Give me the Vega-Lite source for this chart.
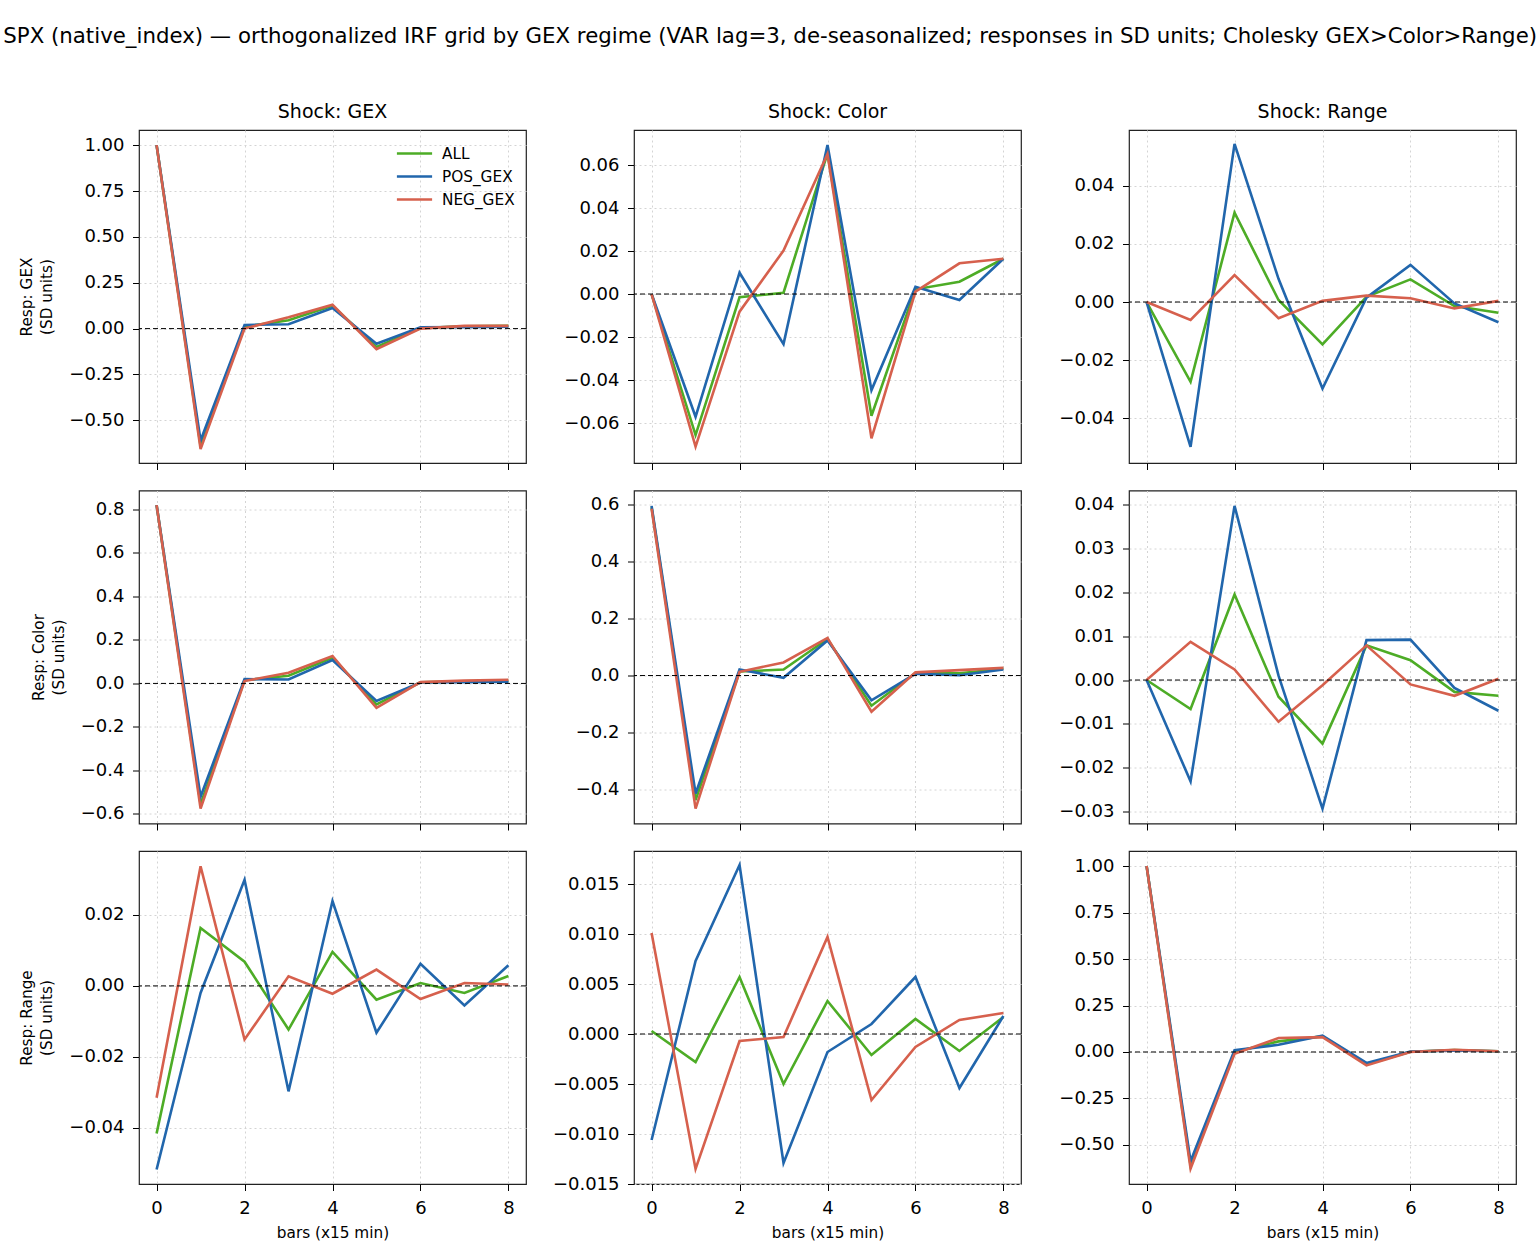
{
"$schema": "https://vega.github.io/schema/vega-lite/v6.json",
"padding": {"left": 3, "top": 26, "right": 3, "bottom": 5},
"background": "white",
"title": {"text": "SPX (native_index) — orthogonalized IRF grid by GEX regime (VAR lag=3, de-seasonalized; responses in SD units; Cholesky GEX>Color>Range)", "fontSize": 21.3, "fontWeight": "normal", "anchor": "middle", "offset": 55, "dx": 2, "color": "black"},
"data": {"values": [
{"s":"GEX","r":"GEX","g":"ALL","h":0,"v":1.0},{"s":"GEX","r":"GEX","g":"ALL","h":1,"v":-0.64},{"s":"GEX","r":"GEX","g":"ALL","h":2,"v":0.01},{"s":"GEX","r":"GEX","g":"ALL","h":3,"v":0.045},{"s":"GEX","r":"GEX","g":"ALL","h":4,"v":0.125},{"s":"GEX","r":"GEX","g":"ALL","h":5,"v":-0.1},{"s":"GEX","r":"GEX","g":"ALL","h":6,"v":0.003},{"s":"GEX","r":"GEX","g":"ALL","h":7,"v":0.012},{"s":"GEX","r":"GEX","g":"ALL","h":8,"v":0.015},
{"s":"GEX","r":"GEX","g":"POS_GEX","h":0,"v":1.0},{"s":"GEX","r":"GEX","g":"POS_GEX","h":1,"v":-0.61},{"s":"GEX","r":"GEX","g":"POS_GEX","h":2,"v":0.02},{"s":"GEX","r":"GEX","g":"POS_GEX","h":3,"v":0.024},{"s":"GEX","r":"GEX","g":"POS_GEX","h":4,"v":0.112},{"s":"GEX","r":"GEX","g":"POS_GEX","h":5,"v":-0.082},{"s":"GEX","r":"GEX","g":"POS_GEX","h":6,"v":0.007},{"s":"GEX","r":"GEX","g":"POS_GEX","h":7,"v":0.008},{"s":"GEX","r":"GEX","g":"POS_GEX","h":8,"v":0.01},
{"s":"GEX","r":"GEX","g":"NEG_GEX","h":0,"v":1.0},{"s":"GEX","r":"GEX","g":"NEG_GEX","h":1,"v":-0.657},{"s":"GEX","r":"GEX","g":"NEG_GEX","h":2,"v":0.0},{"s":"GEX","r":"GEX","g":"NEG_GEX","h":3,"v":0.062},{"s":"GEX","r":"GEX","g":"NEG_GEX","h":4,"v":0.13},{"s":"GEX","r":"GEX","g":"NEG_GEX","h":5,"v":-0.112},{"s":"GEX","r":"GEX","g":"NEG_GEX","h":6,"v":0.0},{"s":"GEX","r":"GEX","g":"NEG_GEX","h":7,"v":0.015},{"s":"GEX","r":"GEX","g":"NEG_GEX","h":8,"v":0.015},

{"s":"Color","r":"GEX","g":"ALL","h":0,"v":0},{"s":"Color","r":"GEX","g":"ALL","h":1,"v":-0.0656},{"s":"Color","r":"GEX","g":"ALL","h":2,"v":-0.0015},{"s":"Color","r":"GEX","g":"ALL","h":3,"v":0.0006},{"s":"Color","r":"GEX","g":"ALL","h":4,"v":0.0654},{"s":"Color","r":"GEX","g":"ALL","h":5,"v":-0.0566},{"s":"Color","r":"GEX","g":"ALL","h":6,"v":0.0022},{"s":"Color","r":"GEX","g":"ALL","h":7,"v":0.0057},{"s":"Color","r":"GEX","g":"ALL","h":8,"v":0.0164},
{"s":"Color","r":"GEX","g":"POS_GEX","h":0,"v":0},{"s":"Color","r":"GEX","g":"POS_GEX","h":1,"v":-0.0571},{"s":"Color","r":"GEX","g":"POS_GEX","h":2,"v":0.0099},{"s":"Color","r":"GEX","g":"POS_GEX","h":3,"v":-0.0233},{"s":"Color","r":"GEX","g":"POS_GEX","h":4,"v":0.0693},{"s":"Color","r":"GEX","g":"POS_GEX","h":5,"v":-0.0447},{"s":"Color","r":"GEX","g":"POS_GEX","h":6,"v":0.0034},{"s":"Color","r":"GEX","g":"POS_GEX","h":7,"v":-0.0028},{"s":"Color","r":"GEX","g":"POS_GEX","h":8,"v":0.0164},
{"s":"Color","r":"GEX","g":"NEG_GEX","h":0,"v":0},{"s":"Color","r":"GEX","g":"NEG_GEX","h":1,"v":-0.071},{"s":"Color","r":"GEX","g":"NEG_GEX","h":2,"v":-0.0082},{"s":"Color","r":"GEX","g":"NEG_GEX","h":3,"v":0.0202},{"s":"Color","r":"GEX","g":"NEG_GEX","h":4,"v":0.0651},{"s":"Color","r":"GEX","g":"NEG_GEX","h":5,"v":-0.0671},{"s":"Color","r":"GEX","g":"NEG_GEX","h":6,"v":0.0011},{"s":"Color","r":"GEX","g":"NEG_GEX","h":7,"v":0.0143},{"s":"Color","r":"GEX","g":"NEG_GEX","h":8,"v":0.0164},

{"s":"Range","r":"GEX","g":"ALL","h":0,"v":0},{"s":"Range","r":"GEX","g":"ALL","h":1,"v":-0.0275},{"s":"Range","r":"GEX","g":"ALL","h":2,"v":0.0308},{"s":"Range","r":"GEX","g":"ALL","h":3,"v":0.0007},{"s":"Range","r":"GEX","g":"ALL","h":4,"v":-0.0146},{"s":"Range","r":"GEX","g":"ALL","h":5,"v":0.0018},{"s":"Range","r":"GEX","g":"ALL","h":6,"v":0.0078},{"s":"Range","r":"GEX","g":"ALL","h":7,"v":-0.0014},{"s":"Range","r":"GEX","g":"ALL","h":8,"v":-0.0037},
{"s":"Range","r":"GEX","g":"POS_GEX","h":0,"v":0},{"s":"Range","r":"GEX","g":"POS_GEX","h":1,"v":-0.0499},{"s":"Range","r":"GEX","g":"POS_GEX","h":2,"v":0.0545},{"s":"Range","r":"GEX","g":"POS_GEX","h":3,"v":0.008},{"s":"Range","r":"GEX","g":"POS_GEX","h":4,"v":-0.0298},{"s":"Range","r":"GEX","g":"POS_GEX","h":5,"v":0.0015},{"s":"Range","r":"GEX","g":"POS_GEX","h":6,"v":0.0128},{"s":"Range","r":"GEX","g":"POS_GEX","h":7,"v":-0.0005},{"s":"Range","r":"GEX","g":"POS_GEX","h":8,"v":-0.007},
{"s":"Range","r":"GEX","g":"NEG_GEX","h":0,"v":0},{"s":"Range","r":"GEX","g":"NEG_GEX","h":1,"v":-0.0062},{"s":"Range","r":"GEX","g":"NEG_GEX","h":2,"v":0.0093},{"s":"Range","r":"GEX","g":"NEG_GEX","h":3,"v":-0.0056},{"s":"Range","r":"GEX","g":"NEG_GEX","h":4,"v":0.0004},{"s":"Range","r":"GEX","g":"NEG_GEX","h":5,"v":0.0022},{"s":"Range","r":"GEX","g":"NEG_GEX","h":6,"v":0.0013},{"s":"Range","r":"GEX","g":"NEG_GEX","h":7,"v":-0.0022},{"s":"Range","r":"GEX","g":"NEG_GEX","h":8,"v":0.0004},

{"s":"GEX","r":"Color","g":"ALL","h":0,"v":0.82},{"s":"GEX","r":"Color","g":"ALL","h":1,"v":-0.555},{"s":"GEX","r":"Color","g":"ALL","h":2,"v":0.015},{"s":"GEX","r":"Color","g":"ALL","h":3,"v":0.035},{"s":"GEX","r":"Color","g":"ALL","h":4,"v":0.118},{"s":"GEX","r":"Color","g":"ALL","h":5,"v":-0.097},{"s":"GEX","r":"Color","g":"ALL","h":6,"v":0.005},{"s":"GEX","r":"Color","g":"ALL","h":7,"v":0.01},{"s":"GEX","r":"Color","g":"ALL","h":8,"v":0.012},
{"s":"GEX","r":"Color","g":"POS_GEX","h":0,"v":0.82},{"s":"GEX","r":"Color","g":"POS_GEX","h":1,"v":-0.521},{"s":"GEX","r":"Color","g":"POS_GEX","h":2,"v":0.02},{"s":"GEX","r":"Color","g":"POS_GEX","h":3,"v":0.018},{"s":"GEX","r":"Color","g":"POS_GEX","h":4,"v":0.107},{"s":"GEX","r":"Color","g":"POS_GEX","h":5,"v":-0.081},{"s":"GEX","r":"Color","g":"POS_GEX","h":6,"v":0.004},{"s":"GEX","r":"Color","g":"POS_GEX","h":7,"v":0.006},{"s":"GEX","r":"Color","g":"POS_GEX","h":8,"v":0.008},
{"s":"GEX","r":"Color","g":"NEG_GEX","h":0,"v":0.82},{"s":"GEX","r":"Color","g":"NEG_GEX","h":1,"v":-0.575},{"s":"GEX","r":"Color","g":"NEG_GEX","h":2,"v":0.011},{"s":"GEX","r":"Color","g":"NEG_GEX","h":3,"v":0.049},{"s":"GEX","r":"Color","g":"NEG_GEX","h":4,"v":0.126},{"s":"GEX","r":"Color","g":"NEG_GEX","h":5,"v":-0.112},{"s":"GEX","r":"Color","g":"NEG_GEX","h":6,"v":0.006},{"s":"GEX","r":"Color","g":"NEG_GEX","h":7,"v":0.013},{"s":"GEX","r":"Color","g":"NEG_GEX","h":8,"v":0.017},

{"s":"Color","r":"Color","g":"ALL","h":0,"v":0.59},{"s":"Color","r":"Color","g":"ALL","h":1,"v":-0.437},{"s":"Color","r":"Color","g":"ALL","h":2,"v":0.014},{"s":"Color","r":"Color","g":"ALL","h":3,"v":0.021},{"s":"Color","r":"Color","g":"ALL","h":4,"v":0.128},{"s":"Color","r":"Color","g":"ALL","h":5,"v":-0.106},{"s":"Color","r":"Color","g":"ALL","h":6,"v":0.009},{"s":"Color","r":"Color","g":"ALL","h":7,"v":0.008},{"s":"Color","r":"Color","g":"ALL","h":8,"v":0.024},
{"s":"Color","r":"Color","g":"POS_GEX","h":0,"v":0.595},{"s":"Color","r":"Color","g":"POS_GEX","h":1,"v":-0.414},{"s":"Color","r":"Color","g":"POS_GEX","h":2,"v":0.021},{"s":"Color","r":"Color","g":"POS_GEX","h":3,"v":-0.008},{"s":"Color","r":"Color","g":"POS_GEX","h":4,"v":0.123},{"s":"Color","r":"Color","g":"POS_GEX","h":5,"v":-0.087},{"s":"Color","r":"Color","g":"POS_GEX","h":6,"v":0.006},{"s":"Color","r":"Color","g":"POS_GEX","h":7,"v":0.001},{"s":"Color","r":"Color","g":"POS_GEX","h":8,"v":0.021},
{"s":"Color","r":"Color","g":"NEG_GEX","h":0,"v":0.585},{"s":"Color","r":"Color","g":"NEG_GEX","h":1,"v":-0.467},{"s":"Color","r":"Color","g":"NEG_GEX","h":2,"v":0.013},{"s":"Color","r":"Color","g":"NEG_GEX","h":3,"v":0.046},{"s":"Color","r":"Color","g":"NEG_GEX","h":4,"v":0.132},{"s":"Color","r":"Color","g":"NEG_GEX","h":5,"v":-0.127},{"s":"Color","r":"Color","g":"NEG_GEX","h":6,"v":0.011},{"s":"Color","r":"Color","g":"NEG_GEX","h":7,"v":0.019},{"s":"Color","r":"Color","g":"NEG_GEX","h":8,"v":0.027},

{"s":"Range","r":"Color","g":"ALL","h":0,"v":0},{"s":"Range","r":"Color","g":"ALL","h":1,"v":-0.0066},{"s":"Range","r":"Color","g":"ALL","h":2,"v":0.0195},{"s":"Range","r":"Color","g":"ALL","h":3,"v":-0.0038},{"s":"Range","r":"Color","g":"ALL","h":4,"v":-0.0145},{"s":"Range","r":"Color","g":"ALL","h":5,"v":0.0079},{"s":"Range","r":"Color","g":"ALL","h":6,"v":0.0045},{"s":"Range","r":"Color","g":"ALL","h":7,"v":-0.0027},{"s":"Range","r":"Color","g":"ALL","h":8,"v":-0.0036},
{"s":"Range","r":"Color","g":"POS_GEX","h":0,"v":0},{"s":"Range","r":"Color","g":"POS_GEX","h":1,"v":-0.0231},{"s":"Range","r":"Color","g":"POS_GEX","h":2,"v":0.0397},{"s":"Range","r":"Color","g":"POS_GEX","h":3,"v":0.001},{"s":"Range","r":"Color","g":"POS_GEX","h":4,"v":-0.0293},{"s":"Range","r":"Color","g":"POS_GEX","h":5,"v":0.0091},{"s":"Range","r":"Color","g":"POS_GEX","h":6,"v":0.0092},{"s":"Range","r":"Color","g":"POS_GEX","h":7,"v":-0.0018},{"s":"Range","r":"Color","g":"POS_GEX","h":8,"v":-0.007},
{"s":"Range","r":"Color","g":"NEG_GEX","h":0,"v":0},{"s":"Range","r":"Color","g":"NEG_GEX","h":1,"v":0.0087},{"s":"Range","r":"Color","g":"NEG_GEX","h":2,"v":0.0024},{"s":"Range","r":"Color","g":"NEG_GEX","h":3,"v":-0.0095},{"s":"Range","r":"Color","g":"NEG_GEX","h":4,"v":-0.0012},{"s":"Range","r":"Color","g":"NEG_GEX","h":5,"v":0.0079},{"s":"Range","r":"Color","g":"NEG_GEX","h":6,"v":-0.001},{"s":"Range","r":"Color","g":"NEG_GEX","h":7,"v":-0.0036},{"s":"Range","r":"Color","g":"NEG_GEX","h":8,"v":0.0003},

{"s":"GEX","r":"Range","g":"ALL","h":0,"v":-0.0416},{"s":"GEX","r":"Range","g":"ALL","h":1,"v":0.0163},{"s":"GEX","r":"Range","g":"ALL","h":2,"v":0.0068},{"s":"GEX","r":"Range","g":"ALL","h":3,"v":-0.0123},{"s":"GEX","r":"Range","g":"ALL","h":4,"v":0.0096},{"s":"GEX","r":"Range","g":"ALL","h":5,"v":-0.0039},{"s":"GEX","r":"Range","g":"ALL","h":6,"v":0.0008},{"s":"GEX","r":"Range","g":"ALL","h":7,"v":-0.002},{"s":"GEX","r":"Range","g":"ALL","h":8,"v":0.0028},
{"s":"GEX","r":"Range","g":"POS_GEX","h":0,"v":-0.0517},{"s":"GEX","r":"Range","g":"POS_GEX","h":1,"v":-0.002},{"s":"GEX","r":"Range","g":"POS_GEX","h":2,"v":0.0299},{"s":"GEX","r":"Range","g":"POS_GEX","h":3,"v":-0.0297},{"s":"GEX","r":"Range","g":"POS_GEX","h":4,"v":0.0239},{"s":"GEX","r":"Range","g":"POS_GEX","h":5,"v":-0.0132},{"s":"GEX","r":"Range","g":"POS_GEX","h":6,"v":0.0062},{"s":"GEX","r":"Range","g":"POS_GEX","h":7,"v":-0.0055},{"s":"GEX","r":"Range","g":"POS_GEX","h":8,"v":0.0058},
{"s":"GEX","r":"Range","g":"NEG_GEX","h":0,"v":-0.0315},{"s":"GEX","r":"Range","g":"NEG_GEX","h":1,"v":0.0337},{"s":"GEX","r":"Range","g":"NEG_GEX","h":2,"v":-0.0151},{"s":"GEX","r":"Range","g":"NEG_GEX","h":3,"v":0.0027},{"s":"GEX","r":"Range","g":"NEG_GEX","h":4,"v":-0.0022},{"s":"GEX","r":"Range","g":"NEG_GEX","h":5,"v":0.0046},{"s":"GEX","r":"Range","g":"NEG_GEX","h":6,"v":-0.0037},{"s":"GEX","r":"Range","g":"NEG_GEX","h":7,"v":0.0008},{"s":"GEX","r":"Range","g":"NEG_GEX","h":8,"v":0.0004},

{"s":"Color","r":"Range","g":"ALL","h":0,"v":0.0003},{"s":"Color","r":"Range","g":"ALL","h":1,"v":-0.0028},{"s":"Color","r":"Range","g":"ALL","h":2,"v":0.0057},{"s":"Color","r":"Range","g":"ALL","h":3,"v":-0.005},{"s":"Color","r":"Range","g":"ALL","h":4,"v":0.0033},{"s":"Color","r":"Range","g":"ALL","h":5,"v":-0.0021},{"s":"Color","r":"Range","g":"ALL","h":6,"v":0.0015},{"s":"Color","r":"Range","g":"ALL","h":7,"v":-0.0017},{"s":"Color","r":"Range","g":"ALL","h":8,"v":0.0017},
{"s":"Color","r":"Range","g":"POS_GEX","h":0,"v":-0.0106},{"s":"Color","r":"Range","g":"POS_GEX","h":1,"v":0.0073},{"s":"Color","r":"Range","g":"POS_GEX","h":2,"v":0.0169},{"s":"Color","r":"Range","g":"POS_GEX","h":3,"v":-0.0129},{"s":"Color","r":"Range","g":"POS_GEX","h":4,"v":-0.0018},{"s":"Color","r":"Range","g":"POS_GEX","h":5,"v":0.001},{"s":"Color","r":"Range","g":"POS_GEX","h":6,"v":0.0057},{"s":"Color","r":"Range","g":"POS_GEX","h":7,"v":-0.0054},{"s":"Color","r":"Range","g":"POS_GEX","h":8,"v":0.0018},
{"s":"Color","r":"Range","g":"NEG_GEX","h":0,"v":0.0101},{"s":"Color","r":"Range","g":"NEG_GEX","h":1,"v":-0.0135},{"s":"Color","r":"Range","g":"NEG_GEX","h":2,"v":-0.0007},{"s":"Color","r":"Range","g":"NEG_GEX","h":3,"v":-0.0003},{"s":"Color","r":"Range","g":"NEG_GEX","h":4,"v":0.0097},{"s":"Color","r":"Range","g":"NEG_GEX","h":5,"v":-0.0066},{"s":"Color","r":"Range","g":"NEG_GEX","h":6,"v":-0.0013},{"s":"Color","r":"Range","g":"NEG_GEX","h":7,"v":0.0014},{"s":"Color","r":"Range","g":"NEG_GEX","h":8,"v":0.0021},

{"s":"Range","r":"Range","g":"ALL","h":0,"v":1.0},{"s":"Range","r":"Range","g":"ALL","h":1,"v":-0.61},{"s":"Range","r":"Range","g":"ALL","h":2,"v":0.0},{"s":"Range","r":"Range","g":"ALL","h":3,"v":0.057},{"s":"Range","r":"Range","g":"ALL","h":4,"v":0.084},{"s":"Range","r":"Range","g":"ALL","h":5,"v":-0.066},{"s":"Range","r":"Range","g":"ALL","h":6,"v":0.001},{"s":"Range","r":"Range","g":"ALL","h":7,"v":0.01},{"s":"Range","r":"Range","g":"ALL","h":8,"v":0.004},
{"s":"Range","r":"Range","g":"POS_GEX","h":0,"v":1.0},{"s":"Range","r":"Range","g":"POS_GEX","h":1,"v":-0.588},{"s":"Range","r":"Range","g":"POS_GEX","h":2,"v":0.009},{"s":"Range","r":"Range","g":"POS_GEX","h":3,"v":0.039},{"s":"Range","r":"Range","g":"POS_GEX","h":4,"v":0.088},{"s":"Range","r":"Range","g":"POS_GEX","h":5,"v":-0.059},{"s":"Range","r":"Range","g":"POS_GEX","h":6,"v":0.002},{"s":"Range","r":"Range","g":"POS_GEX","h":7,"v":0.008},{"s":"Range","r":"Range","g":"POS_GEX","h":8,"v":0.004},
{"s":"Range","r":"Range","g":"NEG_GEX","h":0,"v":1.0},{"s":"Range","r":"Range","g":"NEG_GEX","h":1,"v":-0.627},{"s":"Range","r":"Range","g":"NEG_GEX","h":2,"v":-0.009},{"s":"Range","r":"Range","g":"NEG_GEX","h":3,"v":0.075},{"s":"Range","r":"Range","g":"NEG_GEX","h":4,"v":0.08},{"s":"Range","r":"Range","g":"NEG_GEX","h":5,"v":-0.072},{"s":"Range","r":"Range","g":"NEG_GEX","h":6,"v":0.0},{"s":"Range","r":"Range","g":"NEG_GEX","h":7,"v":0.012},{"s":"Range","r":"Range","g":"NEG_GEX","h":8,"v":0.004}
]},
"columns": 3,
"spacing": {"row": 27.5, "column": 108},
"bounds": "flush",
"resolve": {"legend": {"color": "independent"}},
"concat": [
 {"width": 387, "height": 333, "title": "Shock: GEX",
  "layer": [
   {"transform": [{"filter": "datum.s === 'GEX' && datum.r === 'GEX'"}],
    "mark": {"type": "line", "strokeWidth": 2.6},
    "encoding": {
     "x": {"field": "h", "type": "quantitative", "scale": {"domain": [-0.4, 8.4], "nice": false, "zero": false}, "axis": {"values": [0,2,4,6,8], "labels": false, "title": null}},
     "y": {"field": "v", "type": "quantitative", "scale": {"domain": [-0.7325, 1.0825], "nice": false, "zero": false}, "axis": {"values": [-0.5,-0.25,0,0.25,0.5,0.75,1], "format": ".2f", "title": ["Resp: GEX", "(SD units)"]}},
     "color": {"field": "g", "type": "nominal", "scale": {"domain": ["ALL","POS_GEX","NEG_GEX"], "range": ["#4dac26","#2166ac","#d6604d"]},
       "legend": {"orient": "top-right", "title": null, "labelFontSize": 15.3, "symbolType": "M-1.6,0H1.6", "symbolSize": 484, "symbolStrokeWidth": 2.7, "labelOffset": 15, "rowPadding": 2, "offset": 11, "padding": 0}}}},
   {"data": {"values": [{}]}, "mark": {"type": "rule", "strokeDash": [5,3], "color": "black", "strokeWidth": 1}, "encoding": {"y": {"datum": 0, "type": "quantitative"}}}
  ]},
 {"width": 387, "height": 333, "title": "Shock: Color",
  "layer": [
   {"transform": [{"filter": "datum.s === 'Color' && datum.r === 'GEX'"}],
    "mark": {"type": "line", "strokeWidth": 2.6},
    "encoding": {
     "x": {"field": "h", "type": "quantitative", "scale": {"domain": [-0.4, 8.4], "nice": false, "zero": false}, "axis": {"values": [0,2,4,6,8], "labels": false, "title": null}},
     "y": {"field": "v", "type": "quantitative", "scale": {"domain": [-0.0786, 0.0763], "nice": false, "zero": false}, "axis": {"values": [-0.06,-0.04,-0.02,0,0.02,0.04,0.06], "format": ".2f", "title": null}},
     "color": {"field": "g", "type": "nominal", "scale": {"domain": ["ALL","POS_GEX","NEG_GEX"], "range": ["#4dac26","#2166ac","#d6604d"]}, "legend": null}}},
   {"data": {"values": [{}]}, "mark": {"type": "rule", "strokeDash": [5,3], "color": "black", "strokeWidth": 1}, "encoding": {"y": {"datum": 0, "type": "quantitative"}}}
  ]},
 {"width": 387, "height": 333, "title": "Shock: Range",
  "layer": [
   {"transform": [{"filter": "datum.s === 'Range' && datum.r === 'GEX'"}],
    "mark": {"type": "line", "strokeWidth": 2.6},
    "encoding": {
     "x": {"field": "h", "type": "quantitative", "scale": {"domain": [-0.4, 8.4], "nice": false, "zero": false}, "axis": {"values": [0,2,4,6,8], "labels": false, "title": null}},
     "y": {"field": "v", "type": "quantitative", "scale": {"domain": [-0.0555, 0.0593], "nice": false, "zero": false}, "axis": {"values": [-0.04,-0.02,0,0.02,0.04], "format": ".2f", "title": null}},
     "color": {"field": "g", "type": "nominal", "scale": {"domain": ["ALL","POS_GEX","NEG_GEX"], "range": ["#4dac26","#2166ac","#d6604d"]}, "legend": null}}},
   {"data": {"values": [{}]}, "mark": {"type": "rule", "strokeDash": [5,3], "color": "black", "strokeWidth": 1}, "encoding": {"y": {"datum": 0, "type": "quantitative"}}}
  ]},
 {"width": 387, "height": 333,
  "layer": [
   {"transform": [{"filter": "datum.s === 'GEX' && datum.r === 'Color'"}],
    "mark": {"type": "line", "strokeWidth": 2.6},
    "encoding": {
     "x": {"field": "h", "type": "quantitative", "scale": {"domain": [-0.4, 8.4], "nice": false, "zero": false}, "axis": {"values": [0,2,4,6,8], "labels": false, "title": null}},
     "y": {"field": "v", "type": "quantitative", "scale": {"domain": [-0.644, 0.887], "nice": false, "zero": false}, "axis": {"values": [-0.6,-0.4,-0.2,0,0.2,0.4,0.6,0.8], "format": ".1f", "title": ["Resp: Color", "(SD units)"]}},
     "color": {"field": "g", "type": "nominal", "scale": {"domain": ["ALL","POS_GEX","NEG_GEX"], "range": ["#4dac26","#2166ac","#d6604d"]}, "legend": null}}},
   {"data": {"values": [{}]}, "mark": {"type": "rule", "strokeDash": [5,3], "color": "black", "strokeWidth": 1}, "encoding": {"y": {"datum": 0, "type": "quantitative"}}}
  ]},
 {"width": 387, "height": 333,
  "layer": [
   {"transform": [{"filter": "datum.s === 'Color' && datum.r === 'Color'"}],
    "mark": {"type": "line", "strokeWidth": 2.6},
    "encoding": {
     "x": {"field": "h", "type": "quantitative", "scale": {"domain": [-0.4, 8.4], "nice": false, "zero": false}, "axis": {"values": [0,2,4,6,8], "labels": false, "title": null}},
     "y": {"field": "v", "type": "quantitative", "scale": {"domain": [-0.519, 0.649], "nice": false, "zero": false}, "axis": {"values": [-0.4,-0.2,0,0.2,0.4,0.6], "format": ".1f", "title": null}},
     "color": {"field": "g", "type": "nominal", "scale": {"domain": ["ALL","POS_GEX","NEG_GEX"], "range": ["#4dac26","#2166ac","#d6604d"]}, "legend": null}}},
   {"data": {"values": [{}]}, "mark": {"type": "rule", "strokeDash": [5,3], "color": "black", "strokeWidth": 1}, "encoding": {"y": {"datum": 0, "type": "quantitative"}}}
  ]},
 {"width": 387, "height": 333,
  "layer": [
   {"transform": [{"filter": "datum.s === 'Range' && datum.r === 'Color'"}],
    "mark": {"type": "line", "strokeWidth": 2.6},
    "encoding": {
     "x": {"field": "h", "type": "quantitative", "scale": {"domain": [-0.4, 8.4], "nice": false, "zero": false}, "axis": {"values": [0,2,4,6,8], "labels": false, "title": null}},
     "y": {"field": "v", "type": "quantitative", "scale": {"domain": [-0.0327, 0.0432], "nice": false, "zero": false}, "axis": {"values": [-0.03,-0.02,-0.01,0,0.01,0.02,0.03,0.04], "format": ".2f", "title": null}},
     "color": {"field": "g", "type": "nominal", "scale": {"domain": ["ALL","POS_GEX","NEG_GEX"], "range": ["#4dac26","#2166ac","#d6604d"]}, "legend": null}}},
   {"data": {"values": [{}]}, "mark": {"type": "rule", "strokeDash": [5,3], "color": "black", "strokeWidth": 1}, "encoding": {"y": {"datum": 0, "type": "quantitative"}}}
  ]},
 {"width": 387, "height": 333,
  "layer": [
   {"transform": [{"filter": "datum.s === 'GEX' && datum.r === 'Range'"}],
    "mark": {"type": "line", "strokeWidth": 2.6},
    "encoding": {
     "x": {"field": "h", "type": "quantitative", "scale": {"domain": [-0.4, 8.4], "nice": false, "zero": false}, "axis": {"values": [0,2,4,6,8], "title": "bars (x15 min)"}},
     "y": {"field": "v", "type": "quantitative", "scale": {"domain": [-0.0558, 0.038], "nice": false, "zero": false}, "axis": {"values": [-0.04,-0.02,0,0.02], "format": ".2f", "title": ["Resp: Range", "(SD units)"]}},
     "color": {"field": "g", "type": "nominal", "scale": {"domain": ["ALL","POS_GEX","NEG_GEX"], "range": ["#4dac26","#2166ac","#d6604d"]}, "legend": null}}},
   {"data": {"values": [{}]}, "mark": {"type": "rule", "strokeDash": [5,3], "color": "black", "strokeWidth": 1}, "encoding": {"y": {"datum": 0, "type": "quantitative"}}}
  ]},
 {"width": 387, "height": 333,
  "layer": [
   {"transform": [{"filter": "datum.s === 'Color' && datum.r === 'Range'"}],
    "mark": {"type": "line", "strokeWidth": 2.6},
    "encoding": {
     "x": {"field": "h", "type": "quantitative", "scale": {"domain": [-0.4, 8.4], "nice": false, "zero": false}, "axis": {"values": [0,2,4,6,8], "title": "bars (x15 min)"}},
     "y": {"field": "v", "type": "quantitative", "scale": {"domain": [-0.015, 0.0183], "nice": false, "zero": false}, "axis": {"values": [-0.015,-0.01,-0.005,0,0.005,0.01,0.015], "format": ".3f", "title": null}},
     "color": {"field": "g", "type": "nominal", "scale": {"domain": ["ALL","POS_GEX","NEG_GEX"], "range": ["#4dac26","#2166ac","#d6604d"]}, "legend": null}}},
   {"data": {"values": [{}]}, "mark": {"type": "rule", "strokeDash": [5,3], "color": "black", "strokeWidth": 1}, "encoding": {"y": {"datum": 0, "type": "quantitative"}}}
  ]},
 {"width": 387, "height": 333,
  "layer": [
   {"transform": [{"filter": "datum.s === 'Range' && datum.r === 'Range'"}],
    "mark": {"type": "line", "strokeWidth": 2.6},
    "encoding": {
     "x": {"field": "h", "type": "quantitative", "scale": {"domain": [-0.4, 8.4], "nice": false, "zero": false}, "axis": {"values": [0,2,4,6,8], "title": "bars (x15 min)"}},
     "y": {"field": "v", "type": "quantitative", "scale": {"domain": [-0.71, 1.081], "nice": false, "zero": false}, "axis": {"values": [-0.5,-0.25,0,0.25,0.5,0.75,1], "format": ".2f", "title": null}},
     "color": {"field": "g", "type": "nominal", "scale": {"domain": ["ALL","POS_GEX","NEG_GEX"], "range": ["#4dac26","#2166ac","#d6604d"]}, "legend": null}}},
   {"data": {"values": [{}]}, "mark": {"type": "rule", "strokeDash": [5,3], "color": "black", "strokeWidth": 1}, "encoding": {"y": {"datum": 0, "type": "quantitative"}}}
  ]}
],
"config": {
 "font": "DejaVu Sans",
 "view": {"stroke": "#222222", "strokeWidth": 1.2},
 "axis": {"labelFontSize": 18, "labelColor": "black", "labelFont": "DejaVu Sans", "tickColor": "black", "tickSize": 6.5, "tickWidth": 1, "labelPadding": 8.5, "domain": false, "grid": true, "gridDash": [2, 3], "gridColor": "#d4d4d4", "gridWidth": 1, "titleFontWeight": "normal", "titleFontSize": 15.3, "titleColor": "black", "titleFont": "DejaVu Sans", "titlePadding": 14, "titleLineHeight": 20},
 "axisX": {"titlePadding": 8},
 "title": {"fontSize": 19, "fontWeight": "normal", "font": "DejaVu Sans", "color": "black", "offset": 8},
 "legend": {"labelFont": "DejaVu Sans", "labelColor": "black"}
}
}
